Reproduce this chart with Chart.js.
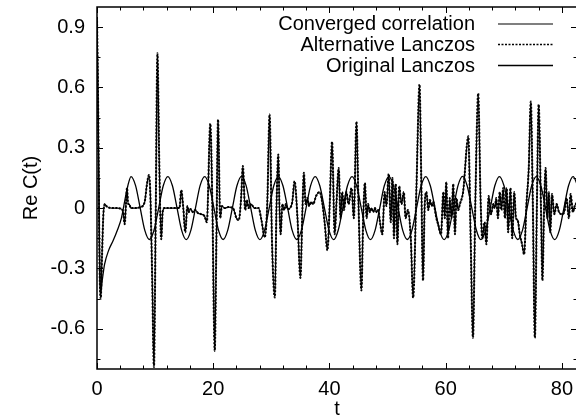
<!DOCTYPE html>
<html><head><meta charset="utf-8">
<script src="https://cdn.jsdelivr.net/npm/chart.js@4/dist/chart.umd.min.js"></script>
<style>html,body{margin:0;padding:0;overflow:hidden;background:#fff}canvas{display:block}</style>
</head><body>
<canvas id="c" width="580" height="419"></canvas>
<script>
const seriesNames = ['Converged correlation', 'Alternative Lanczos', 'Original Lanczos'];
const xTitle = 't';
const yTitle = 'Re C(t)';
const xTickValues = [0, 20, 40, 60, 80];
const yTickValues = [-0.6, -0.3, 0, 0.3, 0.6, 0.9];
const yTickLabels = ['-0.6', '-0.3', '0', '0.3', '0.6', '0.9'];

const spikyT = [
  0,0.2,0.45,0.64,0.85,1.1,1.35,1.6,2.5,3.5,
  4.2,4.5,4.77,5,5.17,5.35,5.55,5.8,6.5,7.5,
  8.2,8.6,8.95,9.2,9.5,9.8,10.1,10.4,10.7,11.05,
  11.3,11.6,12.5,13.4,14.2,14.5,14.85,15.2,15.55,15.8,
  16.1,16.5,16.9,17.4,17.9,18.5,18.9,19.5,19.85,20.26,
  20.55,20.83,21.2,21.5,22,22.6,23.4,24,24.4,24.8,
  25.1,25.5,25.8,26.1,26.5,27.1,27.8,28.3,28.86,29.3,
  29.7,30.1,30.6,30.9,31.2,31.4,31.6,31.9,32.2,32.5,
  32.8,33.2,33.6,34,34.5,35,35.35,35.6,35.9,36.2,
  36.5,36.8,37.2,37.7,38.3,38.8,39.2,39.65,40.05,40.45,
  40.9,41.2,41.6,41.9,42.2,42.5,42.9,43.3,43.8,44.2,
  44.65,45,45.5,45.8,46.1,46.4,46.65,46.95,47.25,47.55,
  47.85,48.1,48.4,48.7,49.1,49.5,49.8,50.2,50.55,50.85,
  51.1,51.4,51.7,52,52.4,52.8,53.1,53.5,54,54.4,
  54.97,55.5,55.8,56.1,56.4,56.7,57,57.3,57.6,57.9,
  58.1,58.4,58.7,59.2,59.6,59.85,60.1,60.4,60.7,61,
  61.3,61.6,61.85,62.15,62.45,63,63.9,64.3,64.7,65.1,
  65.6,66,66.3,66.7,67,67.4,67.8,68.2,68.45,68.7,
  69,69.3,69.6,69.9,70.2,70.5,70.75,71.15,71.45,71.8,
  72.1,72.4,72.75,73.15,73.5,73.9,74.3,74.65,75,75.35,
  75.7,76,76.4,76.65,76.95,77.2,77.5,77.75,78,78.3,
  78.7,79.1,79.5,80,80.4,80.8,81.2,81.5,81.9,82.2,
  82.6
];
const convergedValues = [
  0.95,0.5,-0.3,-0.45,-0.25,-0.03,0.02,0.01,0,0,
  -0.005,-0.02,-0.08,0.03,0.1,0.02,0.02,0,0,0.005,
  0.03,0.12,0.165,0.05,-0.35,-0.79,-0.05,0.77,0.25,-0.155,
  -0.02,0,0,0,0,0.09,0,-0.12,0.01,-0.02,
  -0.005,-0.02,-0.01,-0.025,-0.03,-0.04,-0.07,0.42,0.02,-0.71,
  -0.15,0.44,-0.05,0.01,0,0.005,0,-0.05,-0.06,0.05,
  0.21,-0.01,0.04,0,0.02,0,0,-0.06,-0.145,0.02,
  0.466,-0.15,-0.445,0.02,0.267,0,-0.13,0.02,-0.01,0.02,
  -0.005,0,0.03,0.134,-0.05,-0.347,-0.01,0.176,0.02,0.05,
  0.01,0.03,0.02,0.06,0.08,0.02,-0.08,-0.21,0.02,0.33,
  -0.13,0.02,0.2,-0.05,0.08,-0.01,0.08,0.02,0.1,-0.05,
  0.43,0.02,-0.41,-0.06,0.125,-0.05,0.02,-0.02,0,-0.02,
  0,-0.02,-0.01,-0.07,-0.13,0.08,0.01,0.17,-0.07,0.15,
  -0.15,0.12,-0.18,0.11,0.02,0.08,-0.05,-0.01,-0.15,-0.446,
  0.1,0.615,0.15,-0.36,0.02,0.08,-0.01,0.04,0.01,0.03,
  0,-0.05,-0.08,-0.13,0.08,-0.05,0.13,-0.15,0.05,-0.05,
  0.12,-0.13,0.05,-0.01,0.02,0.08,0.357,-0.15,-0.645,0.02,
  0.57,0.05,-0.15,-0.07,-0.18,0.06,-0.03,0.02,0,0.05,
  -0.05,0.08,-0.01,0.1,-0.05,0.1,-0.12,0.1,-0.15,0.08,
  -0.05,-0.06,-0.13,-0.18,-0.23,0.02,0.2,0.53,0.02,-0.645,
  0.02,0.515,0,-0.36,0.02,0.2,-0.05,0.08,-0.12,0.07,
  -0.03,0.02,-0.02,-0.03,-0.02,0.05,-0.05,0.07,-0.02,0.01,
  0.03
];
// The alternative Lanczos curve lies on top of the converged one in the picture.
const alternativeValues = convergedValues.slice();

const originalT = [
  0,0.2,0.45,0.64,0.9,1.3,2.0,2.8,3.5,4.2,4.8,5.3,5.85,
  6.64,7.43,8.23,9.02,9.81,10.61,11.40,12.19,
  12.98,13.78,14.57,15.36,16.15,16.95,17.74,18.53,
  19.32,20.12,20.91,21.70,22.49,23.29,24.08,24.87,
  25.66,26.46,27.25,28.04,28.83,29.63,30.42,31.21,
  32.00,32.80,33.59,34.38,35.17,35.97,36.76,37.55,
  38.34,39.14,39.93,40.72,41.51,42.31,43.10,43.89,
  44.68,45.48,46.27,47.06,47.85,48.65,49.44,50.23,
  51.02,51.82,52.61,53.40,54.19,54.99,55.78,56.57,
  57.36,58.16,58.95,59.74,60.53,61.33,62.12,62.91,
  63.70,64.50,65.29,66.08,66.87,67.67,68.46,69.25,
  70.04,70.84,71.63,72.42,73.21,74.01,74.80,75.59,
  76.38,77.18,77.97,78.76,79.55,80.35,81.14,81.93,
  82.72
];
const originalValues = [
  0.95,0.45,-0.25,-0.42,-0.36,-0.28,-0.21,-0.16,-0.11,-0.05,0.04,0.11,0.157,
  0.112,0.001,-0.111,-0.156,-0.11,0.0,0.111,0.157,
  0.111,0.0,-0.111,-0.157,-0.111,0.001,0.112,0.157,
  0.111,0.0,-0.11,-0.156,-0.111,0.0,0.111,0.158,
  0.112,0.0,-0.111,-0.157,-0.111,0.0,0.111,0.157,
  0.111,0.001,-0.111,-0.156,-0.111,0.0,0.112,0.157,
  0.111,0.0,-0.111,-0.157,-0.11,0.0,0.111,0.157,
  0.111,0.0,-0.111,-0.157,-0.111,0.0,0.111,0.157,
  0.112,0.0,-0.111,-0.156,-0.111,0.001,0.111,0.157,
  0.111,0.0,-0.111,-0.157,-0.111,0.0,0.112,0.158,
  0.111,0.0,-0.11,-0.157,-0.111,0.0,0.111,0.157,
  0.111,0.0,-0.111,-0.156,-0.111,0.0,0.111,0.157,
  0.111,0.001,-0.111,-0.157,-0.111,0.0,0.111,0.157,
  0.111
];

const FONT = '"Liberation Sans", Arial, Helvetica, sans-serif';
Chart.defaults.font.family = FONT;
Chart.defaults.color = '#000';

const toPoints = (ts, vs) => ts.map((t, i) => ({ x: t, y: vs[i] }));

const framePlugin = {
  id: 'frame',
  afterDatasetsDraw(chart) {
    const { ctx, chartArea: a, scales: { x, y } } = chart;
    ctx.save();
    ctx.strokeStyle = '#000';
    ctx.lineWidth = 1.5;
    ctx.strokeRect(a.left, a.top, a.right - a.left, a.bottom - a.top);
    ctx.lineWidth = 1;
    ctx.beginPath();
    for (let v = 0; v <= x.max + 1e-9; v += 4) {
      const px = Math.round(x.getPixelForValue(v)) + 0.5;
      const len = (v % 20 === 0) ? 6 : 3.5;
      ctx.moveTo(px, a.bottom); ctx.lineTo(px, a.bottom - len);
      ctx.moveTo(px, a.top); ctx.lineTo(px, a.top + len);
    }
    for (let k = -5; k <= 6; k++) {
      const py = Math.round(y.getPixelForValue(k * 0.15)) + 0.5;
      const len = (k % 2 === 0) ? 6 : 3.5;
      ctx.moveTo(a.left, py); ctx.lineTo(a.left + len, py);
      ctx.moveTo(a.right, py); ctx.lineTo(a.right - len, py);
    }
    ctx.stroke();

    // key, gnuplot style: text then line sample
    ctx.font = '20px ' + FONT;
    ctx.textAlign = 'right';
    ctx.textBaseline = 'middle';
    ctx.fillStyle = '#000';
    const rows = [23.5, 44, 65];
    chart.data.datasets.forEach((ds, i) => {
      const ry = rows[i];
      ctx.fillText(ds.label, 475, ry + 1);
      ctx.beginPath();
      ctx.lineWidth = i === 1 ? 1.6 : ds.borderWidth;
      ctx.setLineDash(ds.borderDash || []);
      ctx.moveTo(498, ry + 0.5);
      ctx.lineTo(553, ry + 0.5);
      ctx.stroke();
    });
    ctx.restore();
  }
};

new Chart(document.getElementById('c'), {
  type: 'line',
  data: {
    datasets: [
      { label: seriesNames[0], data: toPoints(spikyT, convergedValues), borderColor: '#000',
        borderWidth: 1.2, pointRadius: 0, cubicInterpolationMode: 'monotone', fill: false },
      { label: seriesNames[1], data: toPoints(spikyT, alternativeValues), borderColor: '#000',
        borderWidth: 2, borderDash: [2, 1.5], pointRadius: 0, cubicInterpolationMode: 'monotone', fill: false },
      { label: seriesNames[2], data: toPoints(originalT, originalValues), borderColor: '#000',
        borderWidth: 1.3, pointRadius: 0, cubicInterpolationMode: 'monotone', fill: false }
    ]
  },
  options: {
    responsive: false,
    animation: false,
    devicePixelRatio: 1,
    layout: { padding: { top: 7, right: 3, left: 0, bottom: 0 } },
    plugins: { legend: { display: false }, tooltip: { enabled: false } },
    scales: {
      x: {
        type: 'linear', min: 0, max: 82.6,
        grid: { display: false, drawTicks: false }, border: { display: false },
        afterBuildTicks: s => { s.ticks = xTickValues.map(v => ({ value: v })); },
        afterFit: s => { s.height = 50; s.paddingLeft = 0; s.paddingRight = 0; },
        ticks: { autoSkip: false, maxRotation: 0, padding: 8, font: { size: 20 },
                 callback: (v) => String(v) },
        title: { display: true, text: xTitle, font: { size: 20, lineHeight: 1 }, padding: { top: 0, bottom: 0 } }
      },
      y: {
        type: 'linear', min: -0.8, max: 1.0,
        grid: { display: false, drawTicks: false }, border: { display: false },
        afterBuildTicks: s => { s.ticks = yTickValues.map(v => ({ value: v })); },
        afterFit: s => { s.width = 97; s.paddingTop = 0; s.paddingBottom = 0; },
        ticks: { autoSkip: false, padding: 12, font: { size: 20 },
                 callback: (v, i) => yTickLabels[i] },
        title: { display: true, text: yTitle, font: { size: 20 }, padding: { top: 19, bottom: 0 } }
      }
    }
  },
  plugins: [framePlugin]
});
</script>
</body></html>
